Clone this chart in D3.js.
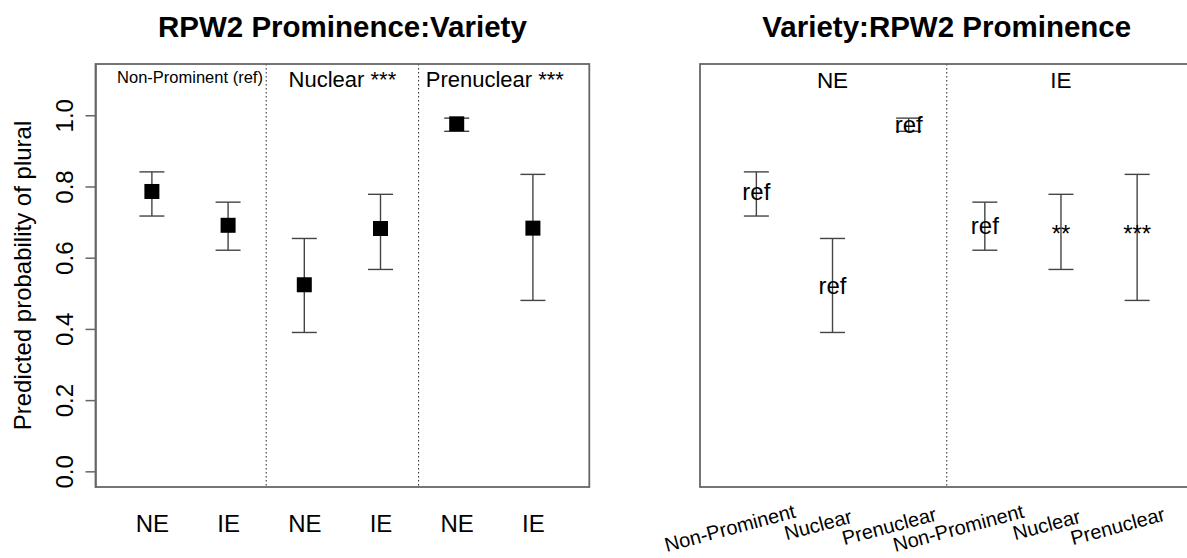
<!DOCTYPE html>
<html>
<head>
<meta charset="utf-8">
<script src="https://cdn.jsdelivr.net/npm/d3@7"></script>
<style>
  body { margin: 0; background: #fff; }
  svg { display: block; font-family: "Liberation Sans", Arial, Helvetica, sans-serif; }
</style>
</head>
<body>
<svg id="chart" width="1187" height="558"></svg>
<script>
// predicted probabilities, in prominence order
const prominence = ["Non-Prominent", "Nuclear", "Prenuclear"];
const varieties = ["NE", "IE"];
const fitNE = [0.786, 0.524, 0.976];
const lowerNE = [0.717, 0.390, 0.955];
const upperNE = [0.841, 0.654, 0.992];
const fitIE = [0.691, 0.682, 0.683];
const lowerIE = [0.621, 0.567, 0.480];
const upperIE = [0.756, 0.778, 0.834];
const prominenceHeaders = ["Non-Prominent (ref)", "Nuclear ***", "Prenuclear ***"];
const sigNE = ["ref", "ref", "ref"];
const sigIE = ["ref", "**", "***"];
const yTicks = [0, 0.2, 0.4, 0.6, 0.8, 1.0];

const svg = d3.select("#chart");
svg.append("rect").attr("width", 1187).attr("height", 558).attr("fill", "#fff");

const fits = { NE: fitNE, IE: fitIE };
const lows = { NE: lowerNE, IE: lowerIE };
const ups = { NE: upperNE, IE: upperIE };
const sigs = { NE: sigNE, IE: sigIE };

// left panel: prominence groups, variety inside
const leftRows = [];
prominence.forEach((p, i) => varieties.forEach((v, j) => {
  leftRows.push({ pos: i * 2 + j + 1, label: v, fit: fits[v][i], lo: lows[v][i], hi: ups[v][i] });
}));
// right panel: variety groups, prominence inside
const rightRows = [];
varieties.forEach((v, j) => prominence.forEach((p, i) => {
  rightRows.push({ pos: j * 3 + i + 1, label: p, fit: fits[v][i], lo: lows[v][i], hi: ups[v][i], sig: sigs[v][i] });
}));

const plotTop = 64, plotBottom = 487;
const y = d3.scaleLinear().domain([-0.044, 1.144]).range([plotBottom, plotTop]);
const xDomain = [0.26, 6.74];
const xL = d3.scaleLinear().domain(xDomain).range([95.5, 589.3]);
const xR = d3.scaleLinear().domain(xDomain).range([700, 1193.5]);

const boxCol = "#666", barCol = "#444";
const fontAxis = 24;

function errorBars(g, x, rows) {
  const cap = 12.5;
  const eb = g.selectAll(".eb").data(rows).enter().append("g").attr("class", "eb")
    .attr("stroke", barCol).attr("stroke-width", 1.4);
  eb.append("line").attr("x1", d => x(d.pos)).attr("x2", d => x(d.pos))
    .attr("y1", d => y(d.lo)).attr("y2", d => y(d.hi));
  eb.append("line").attr("x1", d => x(d.pos) - cap).attr("x2", d => x(d.pos) + cap)
    .attr("y1", d => y(d.lo)).attr("y2", d => y(d.lo));
  eb.append("line").attr("x1", d => x(d.pos) - cap).attr("x2", d => x(d.pos) + cap)
    .attr("y1", d => y(d.hi)).attr("y2", d => y(d.hi));
}

function divider(g, x, at) {
  g.selectAll(".div").data(at).enter().append("line")
    .attr("x1", d => x(d)).attr("x2", d => x(d))
    .attr("y1", plotTop).attr("y2", plotBottom)
    .attr("stroke", "#222").attr("stroke-width", 1)
    .attr("stroke-dasharray", "1.5,2.5");
}

function frame(g, x) {
  g.append("rect")
    .attr("x", x.range()[0]).attr("y", plotTop)
    .attr("width", x.range()[1] - x.range()[0]).attr("height", plotBottom - plotTop)
    .attr("fill", "none").attr("stroke", boxCol).attr("stroke-width", 1.8);
}

// ---- left panel ----
const gL = svg.append("g");
divider(gL, xL, [2.5, 4.5]);
errorBars(gL, xL, leftRows);
const sq = 15;
gL.selectAll(".pt").data(leftRows).enter().append("rect")
  .attr("x", d => xL(d.pos) - sq / 2).attr("y", d => y(d.fit) - sq / 2)
  .attr("width", sq).attr("height", sq).attr("fill", "#000");

gL.selectAll(".hdr").data(prominenceHeaders).enter().append("text")
  .attr("x", (d, i) => xL(i * 2 + 1.5)).attr("y", (d, i) => i === 0 ? 83 : 86.7)
  .attr("text-anchor", "middle")
  .attr("font-size", (d, i) => i === 0 ? 16.5 : 22)
  .text(d => d);

const yAxis = gL.append("g").attr("transform", `translate(${xL.range()[0]},0)`)
  .call(d3.axisLeft(y).tickValues(yTicks).tickFormat(d3.format(".1f")).tickSize(10).tickSizeOuter(0));
yAxis.select(".domain").attr("stroke", boxCol).attr("stroke-width", 1.5);
yAxis.selectAll(".tick line").attr("stroke", boxCol).attr("stroke-width", 1.5);
yAxis.selectAll(".tick text")
  .attr("x", 0).attr("dy", 0)
  .attr("transform", "translate(-23,0) rotate(-90)")
  .attr("text-anchor", "middle")
  .attr("font-size", fontAxis).attr("fill", "#000");
yAxis.attr("font-family", null);

const xAxisL = gL.append("g").attr("transform", `translate(0,${plotBottom})`)
  .call(d3.axisBottom(xL).tickValues(leftRows.map(d => d.pos))
    .tickFormat((d, i) => leftRows[i].label).tickSize(0));
xAxisL.attr("font-family", null);
xAxisL.select(".domain").remove();
xAxisL.selectAll(".tick text").attr("y", 44.7).attr("dy", 0)
  .attr("font-size", fontAxis).attr("fill", "#000");

frame(gL, xL);

gL.append("text")
  .attr("transform", `translate(31,${(plotTop + plotBottom) / 2}) rotate(-90)`)
  .attr("text-anchor", "middle").attr("font-size", fontAxis)
  .text("Predicted probability of plural");

svg.append("text").attr("x", (xL.range()[0] + xL.range()[1]) / 2).attr("y", 37)
  .attr("text-anchor", "middle").attr("font-size", 29.5).attr("font-weight", "bold")
  .text("RPW2 Prominence:Variety");

// ---- right panel ----
const gR = svg.append("g");
divider(gR, xR, [3.5]);
errorBars(gR, xR, rightRows);
gR.selectAll(".sig").data(rightRows).enter().append("text")
  .attr("x", d => xR(d.pos))
  .attr("y", d => y(d.fit) + (d.sig === "ref" ? 0.365 : 0.58) * 24)
  .attr("text-anchor", "middle").attr("font-size", 24)
  .text(d => d.sig);

gR.selectAll(".hdr").data(varieties).enter().append("text")
  .attr("x", (d, j) => xR(j * 3 + 2)).attr("y", 88.3)
  .attr("text-anchor", "middle").attr("font-size", 22.5)
  .text(d => d);

const lab = gR.selectAll(".xl").data(rightRows).enter().append("g")
  .attr("transform", d => `translate(${xR(d.pos)},528) rotate(-15)`)
  .append("text").attr("font-size", 20).text(d => d.label);
lab.attr("x", function () { return -0.69 * this.getComputedTextLength(); });

frame(gR, xR);

svg.append("text").attr("x", (xR.range()[0] + xR.range()[1]) / 2).attr("y", 37)
  .attr("text-anchor", "middle").attr("font-size", 29.5).attr("font-weight", "bold")
  .text("Variety:RPW2 Prominence");
</script>
</body>
</html>
